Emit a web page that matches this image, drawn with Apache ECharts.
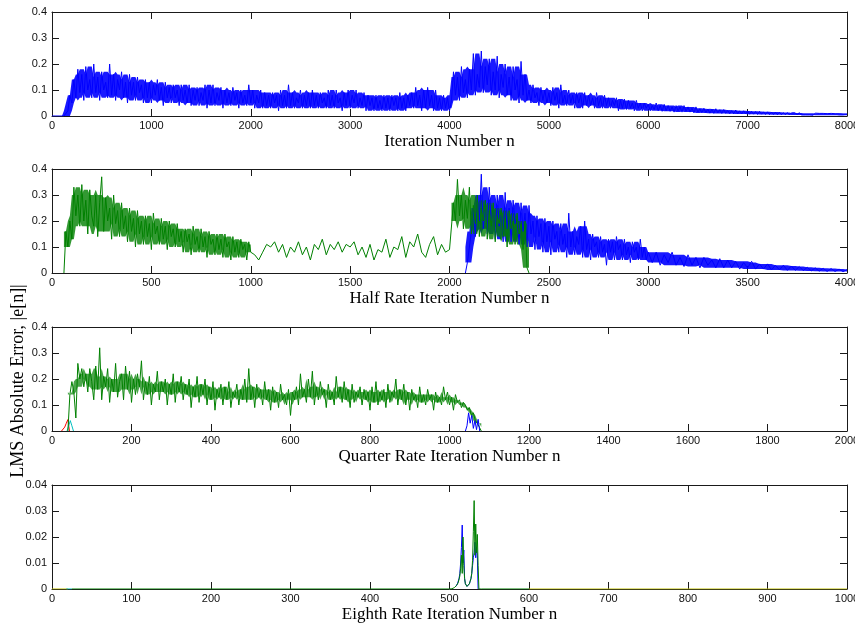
<!DOCTYPE html>
<html><head><meta charset="utf-8">
<script src="https://cdn.jsdelivr.net/npm/echarts@6/dist/echarts.min.js"></script>
<style>html,body{margin:0;padding:0;background:#fff}#c{width:855px;height:627px}</style>
</head><body><div id="c"></div>
<script>
// ---- Panel 1: full rate (n = 0, 20, 40, ... 8000)
const fullStart = 0, fullStep = 20;
const fullBlue = [
 0,0,0,0,0,0,0,0,0.02,0.08,
 0.05,0.14,0.07,0.18,0.09,0.16,0.06,0.19,0.1,0.14,
 0.07,0.2,0.09,0.15,0.06,0.17,0.1,0.13,0.07,0.2,
 0.08,0.16,0.06,0.14,0.1,0.17,0.07,0.13,0.05,0.16,
 0.08,0.13,0.06,0.15,0.09,0.12,0.05,0.14,0.07,0.13,
 0.05,0.12,0.08,0.14,0.06,0.11,0.04,0.13,0.07,0.11,
 0.05,0.12,0.07,0.1,0.04,0.12,0.06,0.1,0.05,0.12,
 0.04,0.1,0.06,0.11,0.04,0.09,0.06,0.12,0.03,0.1,
 0.05,0.12,0.04,0.09,0.06,0.11,0.03,0.1,0.05,0.09,
 0.04,0.11,0.06,0.09,0.03,0.1,0.05,0.08,0.04,0.12,
 0.05,0.1,0.03,0.08,0.05,0.1,0.03,0.09,0.04,0.08,
 0.03,0.09,0.05,0.08,0.02,0.1,0.04,0.08,0.03,0.12,
 0.04,0.09,0.03,0.07,0.05,0.1,0.03,0.08,0.04,0.09,
 0.03,0.1,0.04,0.08,0.03,0.09,0.05,0.07,0.03,0.1,
 0.04,0.08,0.03,0.1,0.05,0.07,0.02,0.09,0.04,0.1,
 0.03,0.08,0.05,0.1,0.03,0.07,0.04,0.09,0.02,0.08,
 0.04,0.07,0.02,0.08,0.03,0.06,0.02,0.08,0.03,0.07,
 0.02,0.08,0.04,0.07,0.02,0.09,0.03,0.07,0.02,0.08,
 0.04,0.09,0.03,0.11,0.04,0.08,0.02,0.1,0.03,0.11,
 0.04,0.08,0.02,0.1,0.03,0.07,0.02,0.08,0.03,0.07,
 0.02,0.06,0.17,0.08,0.15,0.06,0.19,0.09,0.14,0.07,
 0.18,0.1,0.24,0.08,0.16,0.11,0.25,0.09,0.19,0.12,
 0.22,0.08,0.17,0.1,0.23,0.07,0.16,0.11,0.2,0.08,
 0.15,0.06,0.19,0.1,0.14,0.05,0.21,0.08,0.16,0.06,
 0.1,0.05,0.12,0.07,0.09,0.04,0.11,0.06,0.1,0.05,
 0.09,0.04,0.11,0.06,0.09,0.03,0.12,0.05,0.08,0.04,
 0.1,0.05,0.08,0.03,0.09,0.05,0.08,0.03,0.09,0.04,
 0.08,0.04,0.07,0.03,0.09,0.04,0.07,0.03,0.08,0.04,
 0.07,0.03,0.06,0.04,0.07,0.02,0.06,0.03,0.065,0.025,
 0.06,0.03,0.05,0.02,0.06,0.03,0.05,0.02,0.05,0.03,
 0.045,0.02,0.04,0.025,0.05,0.02,0.04,0.018,0.045,0.02,
 0.04,0.018,0.035,0.015,0.04,0.02,0.035,0.015,0.04,0.018,
 0.035,0.015,0.03,0.012,0.035,0.015,0.028,0.012,0.03,0.013,
 0.027,0.011,0.025,0.01,0.028,0.012,0.024,0.01,0.025,0.01,
 0.022,0.009,0.021,0.008,0.023,0.009,0.02,0.008,0.02,0.008,
 0.019,0.007,0.018,0.007,0.017,0.006,0.018,0.007,0.016,0.006,
 0.016,0.005,0.015,0.006,0.014,0.005,0.015,0.005,0.013,0.005,
 0.013,0.004,0.012,0.005,0.012,0.004,0.013,0.004,0.011,0.004,
 0.011,0.004,0.01,0.003,0.011,0.004,0.01,0.003,0.01,0.003,
 0.009,0.003,0.01,0.003,0.009,0.002,0.009,0.003,0.008,0.002,
 0.008];

// ---- Panel 2: half rate (green in three stretches, blue in two)
const halfGreenAStart = 60, halfGreenAStep = 10;
const halfGreenA = [
 0,0.16,0.1,0.2,0.13,0.33,0.22,0.3,0.18,0.34,
 0.2,0.28,0.15,0.32,0.22,0.18,0.3,0.14,0.27,0.37,
 0.16,0.29,0.2,0.25,0.13,0.3,0.19,0.24,0.14,0.27,
 0.17,0.22,0.12,0.25,0.16,0.21,0.1,0.24,0.15,0.2,
 0.11,0.22,0.14,0.19,0.09,0.23,0.15,0.18,0.11,0.21,
 0.13,0.18,0.09,0.2,0.14,0.17,0.1,0.19,0.12,0.16,
 0.08,0.17,0.12,0.15,0.07,0.18,0.11,0.14,0.08,0.17,
 0.1,0.14,0.06,0.16,0.11,0.13,0.07,0.15,0.09,0.13,
 0.06,0.15,0.1,0.12,0.05,0.14,0.08,0.12,0.06,0.13,
 0.09,0.11,0.05,0.12,0.08];
const halfGreenBStart = 1020, halfGreenBStep = 20;
const halfGreenB = [
 0.07,0.05,0.08,0.11,0.1,0.12,0.08,0.11,0.06,0.1,
 0.08,0.12,0.07,0.1,0.05,0.11,0.09,0.13,0.07,0.11,
 0.09,0.12,0.08,0.11,0.1,0.12,0.07,0.1,0.06,0.11,
 0.05,0.09,0.08,0.13,0.06,0.1,0.09,0.14,0.06,0.12,
 0.1,0.15,0.08,0.06,0.11,0.14,0.07,0.11,0.08,0.09];
const halfGreenCStart = 2010, halfGreenCStep = 10;
const halfGreenC = [
 0.09,0.27,0.2,0.36,0.22,0.3,0.17,0.28,0.21,0.33,
 0.15,0.26,0.19,0.3,0.14,0.25,0.2,0.28,0.13,0.24,
 0.18,0.27,0.12,0.22,0.19,0.25,0.14,0.21,0.1,0.24,
 0.17,0.2,0.11,0.23,0.15,0.19,0.09,0.2,0.02,0];
const halfBlueAStart = 2080, halfBlueAStep = 10;
const halfBlueA = [
 0,0.04,0.1,0.16,0.25,0.14,0.3,0.2,0.38,0.17,
 0.28,0.15,0.33,0.2,0.26,0.13,0.3,0.18,0.24,0.12,
 0.31,0.17,0.25,0.12,0.28,0.19,0.22,0.11,0.27,0.16,
 0.23,0.1,0.26,0.15,0.2,0.09,0.22,0.14,0.19,0.08,
 0.21,0.12,0.18,0.07,0.2,0.13,0.16,0.08,0.19,0.11,
 0.15,0.06,0.23,0.1,0.16,0.07,0.14,0.11,0.18,0.06,
 0.2,0.09,0.13,0.05,0.15,0.1,0.12,0.06,0.14,0.08,
 0.11,0.03,0.13,0.08,0.12,0.05,0.14,0.09,0.11,0.05,
 0.13,0.07,0.1,0.04,0.12,0.08,0.1,0.05,0.13,0.06,
 0.1,0.05,0.08];
const halfBlueBStart = 3020, halfBlueBStep = 20;
const halfBlueB = [
 0.04,0.08,0.03,0.07,0.04,0.08,0.03,0.06,0.025,0.07,
 0.03,0.06,0.02,0.06,0.03,0.05,0.02,0.055,0.02,0.05,
 0.02,0.045,0.015,0.04,0.02,0.045,0.015,0.035,0.015,0.035,
 0.012,0.03,0.012,0.03,0.01,0.027,0.01,0.025,0.009,0.022,
 0.008,0.02,0.007,0.018,0.006,0.017,0.006,0.015,0.005,0.013];

// ---- Panel 3: quarter rate
const quarterGreenStart = 40, quarterGreenStep = 5;
const quarterGreen = [
 0,0.14,0.19,0.15,0.05,0.26,0.2,0.24,0.17,0.22,
 0.15,0.24,0.19,0.12,0.25,0.16,0.32,0.12,0.21,0.17,
 0.24,0.11,0.2,0.15,0.26,0.13,0.19,0.22,0.12,0.25,
 0.16,0.23,0.11,0.2,0.14,0.22,0.17,0.27,0.12,0.19,
 0.14,0.21,0.1,0.18,0.15,0.23,0.12,0.19,0.15,0.2,
 0.1,0.18,0.14,0.22,0.11,0.19,0.15,0.21,0.12,0.18,
 0.14,0.2,0.09,0.17,0.13,0.21,0.11,0.18,0.14,0.2,
 0.1,0.17,0.12,0.19,0.08,0.16,0.13,0.18,0.1,0.17,
 0.12,0.19,0.09,0.15,0.13,0.18,0.1,0.16,0.12,0.2,
 0.11,0.24,0.12,0.17,0.09,0.18,0.13,0.16,0.1,0.19,
 0.12,0.16,0.08,0.17,0.11,0.15,0.09,0.18,0.12,0.14,
 0.1,0.16,0.06,0.15,0.12,0.17,0.1,0.22,0.13,0.16,
 0.11,0.2,0.13,0.23,0.1,0.17,0.12,0.19,0.14,0.16,
 0.09,0.18,0.12,0.15,0.1,0.21,0.13,0.17,0.11,0.19,
 0.12,0.16,0.09,0.18,0.11,0.15,0.13,0.17,0.1,0.16,
 0.12,0.15,0.08,0.17,0.11,0.19,0.1,0.15,0.12,0.16,
 0.09,0.18,0.11,0.15,0.13,0.2,0.1,0.16,0.12,0.18,
 0.1,0.15,0.08,0.16,0.12,0.14,0.09,0.17,0.11,0.14,
 0.1,0.16,0.12,0.14,0.08,0.15,0.11,0.13,0.1,0.17,
 0.12,0.15,0.1,0.13,0.08,0.14,0.11,0.12,0.09,0.11,
 0.1,0.08,0.09,0.06,0.07,0.04,0.03,0.015,0];
const quarterBlueStart = 1040, quarterBlueStep = 4;
const quarterBlue = [0,0.02,0.07,0.03,0.06,0.01,0.04,0.005,0.045,0];
const quarterRedStart = 24, quarterRedStep = 4;
const quarterRed = [0,0.005,0.015,0.03,0.044,0];
const quarterCyanStart = 38, quarterCyanStep = 4;
const quarterCyan = [0,0.02,0.04,0.02,0];

// ---- Panel 4: eighth rate
const eighthGreenStart = 500, eighthGreenStep = 1;
const eighthGreen = [
 0,0,0,0.0001,0.0002,0.0003,0.0005,0.0007,0.001,0.0014,
 0.002,0.0025,0.003,0.005,0.008,0.013,0.006,0.02,0.009,0.004,
 0.002,0.0015,0.001,0.001,0.0015,0.002,0.003,0.004,0.006,0.011,
 0.022,0.034,0.013,0.025,0.014,0.021,0.009,0,0,0,
 0];
const eighthBlueStart = 508, eighthBlueStep = 1;
const eighthBlue = [
 0.001,0.0015,0.002,0.003,0.004,0.006,0.01,0.016,0.0246,0.01,
 0.015,0.004,0.002,0.0015,0.001,0.001,0.0015,0.002,0.003,0.004,
 0.006,0.009,0.012,0.014,0.018,0.012,0.016,0.013,0];
const eighthGreenZeroRanges = [[25,500],[540,600]];
const eighthYellowZeroRanges = [[0,20],[600,1000]];
const eighthCyanZeroRanges = [[18,25]];

// ---- axes
const xMaxes = [8000, 4000, 2000, 1000];
const xIntervals = [1000, 500, 200, 100];
const yMaxes = [0.4, 0.4, 0.4, 0.04];
const yIntervals = [0.1, 0.1, 0.1, 0.01];
const xTitles = ['Iteration Number n', 'Half Rate Iteration Number n', 'Quarter Rate Iteration Number n', 'Eighth Rate Iteration Number n'];
const yTitle = 'LMS Absolute Error, |e[n]|';

const BLUE = '#0000ff', GREEN = '#008000', RED = '#ff0000', CYAN = '#00bfbf', YELLOW = '#bfbf00';
const tops = [12, 169, 327, 485];

function seq(start, step, arr) { return arr.map((v, i) => [start + i * step, v]); }
function zeros(ranges) {
  const out = [];
  ranges.forEach((r, k) => { if (k) out.push([r[0], null]); out.push([r[0], 0], [r[1], 0]); });
  return out;
}

const grid = [], xAxis = [], yAxis = [];
const axisLineStyle = { color: '#1a1a1a', width: 1 };
const tick = { inside: true, length: 7, lineStyle: { color: '#1a1a1a', width: 1 } };
const lbl = { color: '#111', fontFamily: 'Liberation Sans, Arial', fontSize: 11 };
const plain = v => String(v);
for (let g = 0; g < 4; g++) {
  grid.push({ left: 52, right: 8, top: tops[g], height: 104, outerBoundsMode: 'none', containLabel: false });
  xAxis.push({ gridIndex: g, type: 'value', position: 'bottom', min: 0, max: xMaxes[g], interval: xIntervals[g],
    axisLine: { show: true, onZero: false, lineStyle: axisLineStyle }, axisTick: tick,
    axisLabel: Object.assign({ margin: 4, formatter: plain }, lbl), splitLine: { show: false },
    name: xTitles[g], nameLocation: 'middle', nameGap: 17,
    nameTextStyle: { fontFamily: 'Liberation Serif, Times New Roman', fontSize: 17, color: '#000' } });
  xAxis.push({ gridIndex: g, type: 'value', position: 'top', min: 0, max: xMaxes[g], interval: xIntervals[g],
    axisLine: { show: true, onZero: false, lineStyle: axisLineStyle }, axisTick: tick,
    axisLabel: { show: false }, splitLine: { show: false } });
  yAxis.push({ gridIndex: g, type: 'value', position: 'left', min: 0, max: yMaxes[g], interval: yIntervals[g],
    axisLine: { show: true, onZero: false, lineStyle: axisLineStyle }, axisTick: tick,
    axisLabel: Object.assign({ margin: 5, formatter: plain }, lbl), splitLine: { show: false } });
  yAxis.push({ gridIndex: g, type: 'value', position: 'right', min: 0, max: yMaxes[g], interval: yIntervals[g],
    axisLine: { show: true, onZero: false, lineStyle: axisLineStyle }, axisTick: tick,
    axisLabel: { show: false }, splitLine: { show: false } });
}

function line(g, data, color) {
  return { type: 'line', xAxisIndex: 2 * g, yAxisIndex: 2 * g, data: data, showSymbol: false, symbol: 'none',
    lineStyle: { color: color, width: 1 }, itemStyle: { color: color }, connectNulls: false, animation: false, z: 2 };
}
// dense core of a noisy trace: between the local (7-sample) inner low and inner high of the read values
function band(g, pts, color, opacity, inner) {
  const core = pts.map((p, i) => {
    const w = pts.slice(Math.max(0, i - 3), i + 4).map(q => q[1]).sort((a, b) => a - b);
    const k = Math.min(inner, Math.floor((w.length - 1) / 2));
    return [p[0], w[k], w[w.length - 1 - k]];
  });
  return { type: 'custom', xAxisIndex: 2 * g, yAxisIndex: 2 * g, data: [[0, 0]], silent: true, z: 1, animation: false,
    renderItem: (params, api) => {
      const up = core.map(c => api.coord([c[0], c[2]]));
      const lo = core.map(c => api.coord([c[0], c[1]])).reverse();
      return { type: 'polygon', shape: { points: up.concat(lo) }, style: { fill: color, opacity: opacity } };
    } };
}

const fullBluePts = seq(fullStart, fullStep, fullBlue);
const halfBluePts = seq(halfBlueAStart, halfBlueAStep, halfBlueA).concat(seq(halfBlueBStart, halfBlueBStep, halfBlueB));
const halfGreenAPts = seq(halfGreenAStart, halfGreenAStep, halfGreenA);
const halfGreenCPts = seq(halfGreenCStart, halfGreenCStep, halfGreenC);
const halfGreenPts = halfGreenAPts.concat(seq(halfGreenBStart, halfGreenBStep, halfGreenB), halfGreenCPts);
const quarterGreenPts = seq(quarterGreenStart, quarterGreenStep, quarterGreen);

const series = [
  band(0, fullBluePts, BLUE, 0.9, 1),
  line(0, fullBluePts, BLUE),
  band(1, halfBluePts, BLUE, 0.9, 1),
  line(1, halfBluePts, BLUE),
  band(1, halfGreenAPts, GREEN, 0.8, 1),
  band(1, halfGreenCPts, GREEN, 0.8, 1),
  line(1, halfGreenPts, GREEN),
  line(2, seq(quarterRedStart, quarterRedStep, quarterRed), RED),
  line(2, seq(quarterCyanStart, quarterCyanStep, quarterCyan), CYAN),
  band(2, quarterGreenPts, GREEN, 0.7, 2),
  line(2, quarterGreenPts, GREEN),
  line(2, seq(quarterBlueStart, quarterBlueStep, quarterBlue), BLUE),
  line(3, zeros(eighthYellowZeroRanges), YELLOW),
  line(3, zeros(eighthCyanZeroRanges), CYAN),
  line(3, zeros(eighthGreenZeroRanges), GREEN),
  line(3, seq(eighthBlueStart, eighthBlueStep, eighthBlue), BLUE),
  line(3, seq(eighthGreenStart, eighthGreenStep, eighthGreen), GREEN)
];

const chart = echarts.init(document.getElementById('c'), null, { renderer: 'canvas' });
chart.setOption({
  animation: false,
  backgroundColor: '#fff',
  grid: grid, xAxis: xAxis, yAxis: yAxis, series: series,
  graphic: [{ type: 'text', x: 18, y: 381, rotation: Math.PI / 2,
    style: { text: yTitle, font: '18px "Liberation Serif", "Times New Roman", serif', fill: '#000',
      textAlign: 'center', textVerticalAlign: 'middle' } }]
});
</script>
</body></html>
